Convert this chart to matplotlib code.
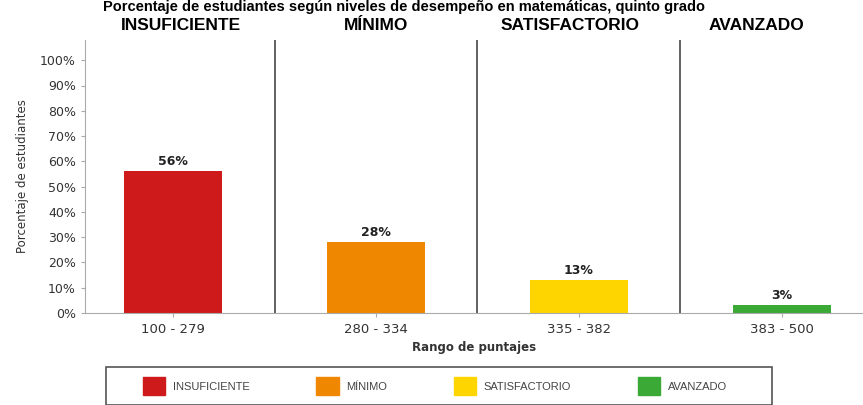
import matplotlib
matplotlib.use("Agg")
import matplotlib.pyplot as plt
from matplotlib.patches import Patch, Rectangle

# data
niveles = ["INSUFICIENTE", "MÍNIMO", "SATISFACTORIO", "AVANZADO"]
rangos = ["100 - 279", "280 - 334", "335 - 382", "383 - 500"]
porcentajes = [56, 28, 13, 3]
colores = ["#CF1A1C", "#F08700", "#FFD500", "#3AA935"]
titulo = "Porcentaje de estudiantes según niveles de desempeño en matemáticas, quinto grado"

plt.rcParams['font.family'] = ['DejaVu Sans']
W, H = 863, 405

fig = plt.figure(figsize=(W / 100, H / 100), dpi=100)
ax = fig.add_axes([85 / W, 1 - 313 / H, 1 - 85 / W, (313 - 40) / H])

x = list(range(len(niveles)))
bars = ax.bar(x, porcentajes, width=0.48, color=colores, zorder=2)
for b, v in zip(bars, porcentajes):
    ax.text(b.get_x() + b.get_width() / 2, v + 1.2, "{}%".format(v),
            ha="center", va="bottom", fontsize=9, fontweight="bold", color="#222222")

# separators between levels
for s in [0.5, 1.5, 2.5]:
    ax.axvline(s, color="#555555", lw=1.3, zorder=1)

ax.set_xlim(-0.434, 3.40)
ax.set_ylim(0, 108)
ax.set_yticks(range(0, 101, 10))
ax.set_yticklabels(["{}%".format(t) for t in range(0, 101, 10)], fontsize=9, color="#333333")
ax.set_xticks(x)
ax.set_xticklabels(rangos, fontsize=9.5, color="#333333")
ax.tick_params(axis="both", length=3, color="#aaaaaa")
ax.tick_params(axis="x", pad=4)
for sp in ["top", "right"]:
    ax.spines[sp].set_visible(False)
for sp in ["left", "bottom"]:
    ax.spines[sp].set_color("#aaaaaa")

ax.set_ylabel("Porcentaje de estudiantes", fontsize=8.5, color="#333333", labelpad=8)
ax.set_xlabel("Rango de puntajes", fontsize=8.5, fontweight="bold", color="#333333", labelpad=4)

# level headers above each column
header_x = [181, 376, 570, 756]
for hx, n in zip(header_x, niveles):
    fig.text(hx / W, 1 - 25 / H, n, ha="center", va="center", fontsize=12.5,
             fontweight="bold", color="black", family=['Liberation Sans', 'DejaVu Sans'])

fig.text(404 / W, 1 - 11 / H, titulo, ha="center", va="baseline", fontsize=10.5,
         fontweight="bold", color="black", family=['Liberation Sans', 'DejaVu Sans'])

# legend with a hand-drawn frame
fig.patches.append(Rectangle((106 / W, 0), (772 - 106) / W, 1 - 367 / H,
                             transform=fig.transFigure, fill=False,
                             edgecolor="#555555", lw=1.2))
handles = [Patch(facecolor=c, edgecolor=c) for c in colores]
leg = fig.legend(handles, niveles, loc="center left", bbox_to_anchor=(133 / W, 1 - 386 / H),
                 ncol=4, frameon=False, fontsize=8, handlelength=2.0, handleheight=2.0,
                 handletextpad=0.7, columnspacing=6.0, labelcolor="#444444",
                 prop={'family': ['Liberation Sans', 'DejaVu Sans'], 'size': 8})

fig.savefig("out.png", dpi=100)
